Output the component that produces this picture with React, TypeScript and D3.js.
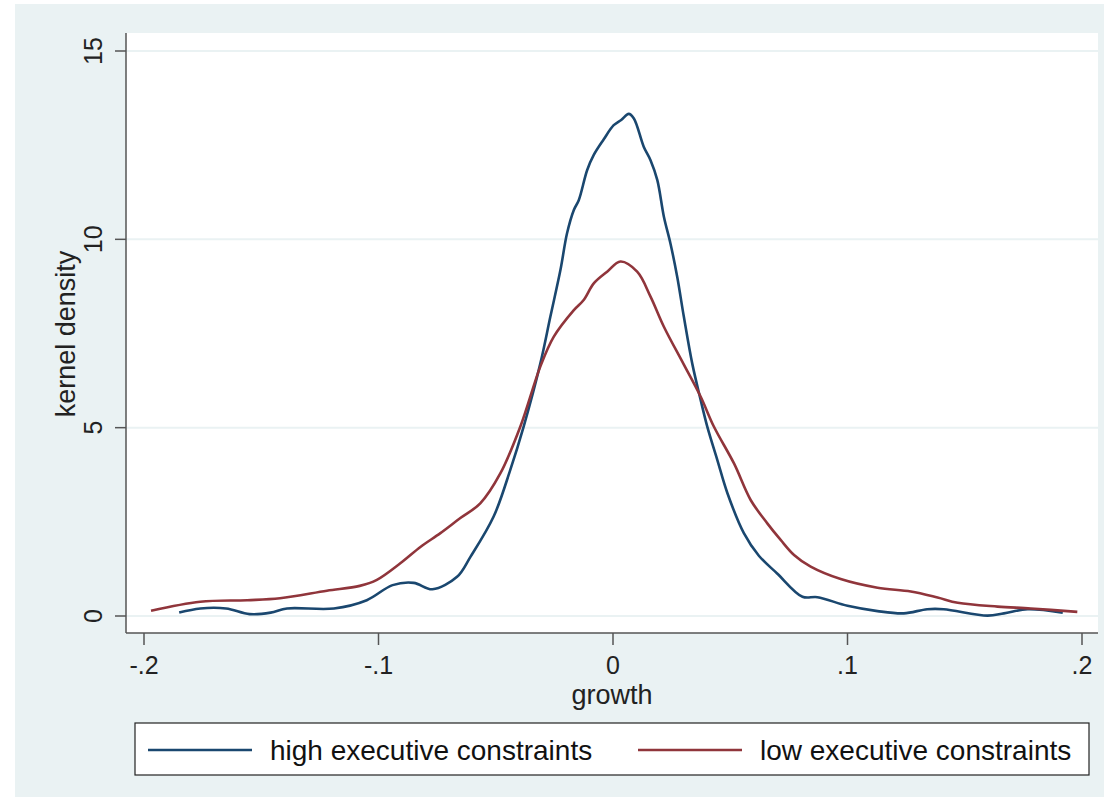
import React, { useEffect, useRef } from "react";
import * as d3 from "d3";

// kernel density estimates: [growth, density]
const highConstraints: [number, number][] = [
    [-0.185, 0.09], [-0.176, 0.2], [-0.165, 0.2], [-0.155, 0.05], [-0.146, 0.09],
    [-0.139, 0.2], [-0.119, 0.2], [-0.105, 0.42], [-0.094, 0.82], [-0.085, 0.88],
    [-0.077, 0.71], [-0.0665, 1.04], [-0.0608, 1.57], [-0.0509, 2.64], [-0.0438, 3.88],
    [-0.0381, 5.03], [-0.031, 6.7], [-0.0267, 7.95], [-0.0224, 9.19], [-0.0196, 10.16],
    [-0.0167, 10.78], [-0.0146, 11.04], [-0.011, 11.84], [-0.0082, 12.24], [-0.004, 12.65],
    [0.0003, 13.03], [0.0035, 13.17], [0.0067, 13.33], [0.0089, 13.21], [0.0131, 12.46],
    [0.016, 12.1], [0.0189, 11.57], [0.0217, 10.6], [0.0245, 9.89], [0.0274, 9.0],
    [0.0302, 7.95], [0.0338, 6.7], [0.0374, 5.73], [0.0402, 5.03], [0.0445, 4.14],
    [0.0488, 3.26], [0.0558, 2.2], [0.0622, 1.6], [0.07, 1.13], [0.0808, 0.51],
    [0.0872, 0.5], [0.1, 0.27], [0.1128, 0.13], [0.124, 0.07], [0.134, 0.18],
    [0.141, 0.18], [0.1597, 0.01], [0.1667, 0.07], [0.1768, 0.18], [0.1918, 0.09],
];

const lowConstraints: [number, number][] = [
    [-0.197, 0.14], [-0.176, 0.38], [-0.156, 0.42], [-0.142, 0.47], [-0.122, 0.67],
    [-0.108, 0.8], [-0.1007, 0.96], [-0.0907, 1.4], [-0.082, 1.84], [-0.0736, 2.2],
    [-0.0651, 2.6], [-0.0566, 2.99], [-0.048, 3.79], [-0.0395, 5.03], [-0.031, 6.62],
    [-0.0253, 7.41], [-0.0167, 8.12], [-0.0125, 8.39], [-0.0082, 8.83], [-0.0025, 9.14],
    [0.0032, 9.41], [0.0103, 9.14], [0.016, 8.48], [0.0217, 7.68], [0.03, 6.7],
    [0.0374, 5.82], [0.043, 5.03], [0.0516, 4.05], [0.0587, 3.08], [0.0658, 2.46],
    [0.0715, 2.02], [0.0772, 1.62], [0.0843, 1.31], [0.0971, 0.98], [0.1128, 0.75],
    [0.127, 0.65], [0.1384, 0.49], [0.147, 0.35], [0.164, 0.25], [0.1782, 0.2],
    [0.198, 0.11],
];

const xTicks = [-0.2, -0.1, 0, 0.1, 0.2];
const xTickLabels = ["-.2", "-.1", "0", ".1", ".2"];
const yTicks = [0, 5, 10, 15];
const legendLabels = ["high executive constraints", "low executive constraints"];

const BLUE = "#1a476f";
const RED = "#90353b";
const BG = "#eaf2f3";
const FONT = "Arial, 'Liberation Sans', sans-serif";

export default function App() {
    const svgRef = useRef(null);

    useEffect(() => {
        const width = 1104;
        const height = 797;
        const plot = { left: 126, right: 1098, top: 33, bottom: 633 };

        const svg = d3.select(svgRef.current)
            .attr("width", width)
            .attr("height", height);
        svg.selectAll("*").remove();

        const x = d3.scaleLinear().domain([-0.2, 0.2]).range([144, 1082]);
        const y = d3.scaleLinear().domain([0, 15]).range([616, 51]);

        // outer graph region
        svg.append("rect").attr("x", 15).attr("y", 4)
            .attr("width", width - 15).attr("height", height - 4)
            .attr("fill", BG);

        // plot region
        svg.append("rect").attr("x", plot.left).attr("y", plot.top)
            .attr("width", plot.right - plot.left).attr("height", plot.bottom - plot.top)
            .attr("fill", "#fff");

        // gridlines
        svg.append("g").selectAll("line")
            .data(yTicks)
            .join("line")
            .attr("x1", plot.left).attr("x2", plot.right)
            .attr("y1", d => y(d)).attr("y2", d => y(d))
            .attr("stroke", BG).attr("stroke-width", 2);

        // y axis
        svg.append("line")
            .attr("x1", plot.left).attr("x2", plot.left)
            .attr("y1", plot.top).attr("y2", plot.bottom)
            .attr("stroke", "#555").attr("stroke-width", 1.5);
        const yAxis = svg.append("g");
        yAxis.selectAll("line")
            .data(yTicks)
            .join("line")
            .attr("x1", 115).attr("x2", plot.left)
            .attr("y1", d => y(d)).attr("y2", d => y(d))
            .attr("stroke", "#555").attr("stroke-width", 1.5);
        yAxis.selectAll("text")
            .data(yTicks)
            .join("text")
            .attr("transform", d => `translate(102,${y(d)}) rotate(-90)`)
            .attr("text-anchor", "middle")
            .style("font-family", FONT)
            .style("font-size", "25px")
            .attr("fill", "#222")
            .text(d => d);

        // x axis
        svg.append("line")
            .attr("x1", plot.left).attr("x2", plot.right)
            .attr("y1", plot.bottom).attr("y2", plot.bottom)
            .attr("stroke", "#555").attr("stroke-width", 1.5);
        const xAxis = svg.append("g");
        xAxis.selectAll("line")
            .data(xTicks)
            .join("line")
            .attr("x1", d => x(d)).attr("x2", d => x(d))
            .attr("y1", plot.bottom).attr("y2", 645)
            .attr("stroke", "#555").attr("stroke-width", 1.5);
        xAxis.selectAll("text")
            .data(xTicks)
            .join("text")
            .attr("x", d => x(d))
            .attr("y", 674)
            .attr("text-anchor", "middle")
            .style("font-family", FONT)
            .style("font-size", "25px")
            .attr("fill", "#222")
            .text((d, i) => xTickLabels[i]);

        // axis titles
        svg.append("text")
            .attr("x", 612).attr("y", 704)
            .attr("text-anchor", "middle")
            .style("font-family", FONT).style("font-size", "27px")
            .attr("fill", "#222")
            .text("growth");
        svg.append("text")
            .attr("transform", "translate(75,334) rotate(-90)")
            .attr("text-anchor", "middle")
            .style("font-family", FONT).style("font-size", "27px")
            .attr("fill", "#222")
            .text("kernel density");

        // density lines
        const line = d3.line<[number, number]>()
            .x(d => x(d[0]))
            .y(d => y(d[1]))
            .curve(d3.curveCatmullRom.alpha(0.5));

        [[highConstraints, BLUE], [lowConstraints, RED]].forEach(([data, color]) => {
            svg.append("path")
                .datum(data as [number, number][])
                .attr("d", line)
                .attr("fill", "none")
                .attr("stroke", color as string)
                .attr("stroke-width", 2.6)
                .attr("stroke-linejoin", "round");
        });

        // legend
        const legend = svg.append("g");
        legend.append("rect")
            .attr("x", 135).attr("y", 723)
            .attr("width", 954).attr("height", 52)
            .attr("fill", "#fff")
            .attr("stroke", "#222").attr("stroke-width", 1.2);
        const keyX = [148, 638];
        legendLabels.forEach((label, i) => {
            legend.append("line")
                .attr("x1", keyX[i]).attr("x2", keyX[i] + 104)
                .attr("y1", 750).attr("y2", 750)
                .attr("stroke", i === 0 ? BLUE : RED)
                .attr("stroke-width", 2.6);
            legend.append("text")
                .attr("x", keyX[i] + 122).attr("y", 760)
                .style("font-family", FONT).style("font-size", "28px")
                .attr("fill", "#111")
                .text(label);
        });
    }, []);

    return (
        <svg ref={svgRef} style={{ position: "absolute", left: 0, top: 0, background: "#fff" }} />
    );
}
